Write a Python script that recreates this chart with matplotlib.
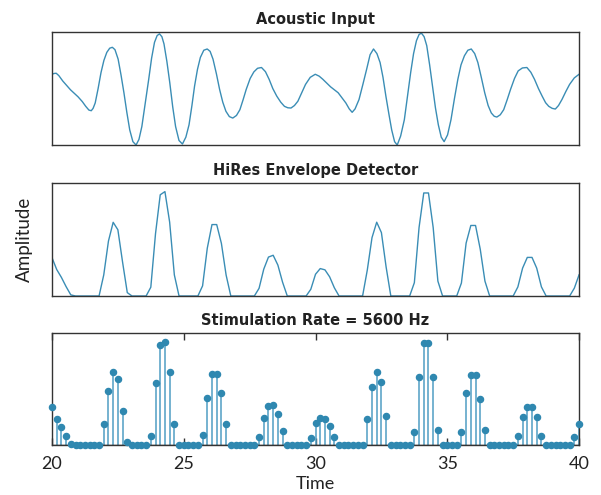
import matplotlib.pyplot as plt
import numpy as np

plt.rcParams['font.family'] = ['Lato', 'DejaVu Sans']

# acoustic input (time in ms, amplitude as fraction of the panel)
input_time = [20.0, 20.08, 20.16, 20.26, 20.41, 20.7, 20.99, 21.15, 21.28, 21.4,
              21.49, 21.56, 21.64, 21.75, 21.86, 21.97, 22.08, 22.19, 22.29, 22.39,
              22.51, 22.62, 22.73, 22.84, 22.95, 23.07, 23.19, 23.3, 23.41, 23.54,
              23.67, 23.78, 23.89, 23.99, 24.08, 24.17, 24.25, 24.36, 24.47, 24.58,
              24.69, 24.82, 24.95, 25.08, 25.2, 25.31, 25.41, 25.52, 25.63, 25.76,
              25.89, 26.0, 26.11, 26.24, 26.36, 26.48, 26.6, 26.73, 26.86, 27.0,
              27.13, 27.25, 27.37, 27.52, 27.66, 27.8, 27.95, 28.1, 28.24, 28.38,
              28.53, 28.68, 28.82, 28.95, 29.07, 29.2, 29.33, 29.48, 29.62, 29.8,
              29.99, 30.14, 30.28, 30.57, 30.86, 31.0, 31.15, 31.28, 31.39, 31.5,
              31.65, 31.8, 31.94, 32.07, 32.2, 32.33, 32.45, 32.56, 32.67, 32.78,
              32.89, 33.0, 33.1, 33.23, 33.37, 33.49, 33.61, 33.72, 33.83, 33.93,
              34.02, 34.12, 34.22, 34.33, 34.44, 34.55, 34.66, 34.77, 34.88, 35.01,
              35.14, 35.27, 35.4, 35.52, 35.65, 35.78, 35.91, 36.04, 36.16, 36.29,
              36.42, 36.55, 36.67, 36.78, 36.88, 37.01, 37.14, 37.27, 37.4, 37.55,
              37.69, 37.85, 38.02, 38.17, 38.31, 38.46, 38.6, 38.73, 38.85, 38.98,
              39.1, 39.22, 39.35, 39.5, 39.64, 39.82, 40.0]
input_amp = [0.627, 0.634, 0.636, 0.615, 0.567, 0.49, 0.427, 0.385, 0.343, 0.31,
             0.304, 0.325, 0.373, 0.5, 0.642, 0.75, 0.821, 0.858, 0.866, 0.845,
             0.761, 0.62, 0.463, 0.29, 0.134, 0.03, 0.0, 0.05, 0.164, 0.37,
             0.582, 0.77, 0.91, 0.97, 0.985, 0.96, 0.896, 0.74, 0.552, 0.34,
             0.164, 0.04, 0.009, 0.07, 0.179, 0.35, 0.522, 0.67, 0.776, 0.84,
             0.851, 0.83, 0.761, 0.63, 0.493, 0.38, 0.299, 0.252, 0.239, 0.262,
             0.313, 0.4, 0.493, 0.59, 0.648, 0.68, 0.687, 0.65, 0.582, 0.5,
             0.433, 0.38, 0.343, 0.33, 0.328, 0.35, 0.388, 0.465, 0.537, 0.6,
             0.627, 0.61, 0.582, 0.516, 0.463, 0.42, 0.373, 0.32, 0.29, 0.32,
             0.403, 0.54, 0.672, 0.8, 0.851, 0.81, 0.731, 0.6, 0.433, 0.28,
             0.134, 0.03, 0.0, 0.08, 0.224, 0.43, 0.642, 0.81, 0.925, 0.98,
             0.991, 0.96, 0.881, 0.71, 0.522, 0.33, 0.179, 0.07, 0.03, 0.09,
             0.224, 0.41, 0.582, 0.71, 0.791, 0.84, 0.851, 0.81, 0.731, 0.6,
             0.463, 0.35, 0.284, 0.255, 0.248, 0.268, 0.313, 0.4, 0.493, 0.59,
             0.657, 0.683, 0.687, 0.645, 0.582, 0.5, 0.433, 0.375, 0.343, 0.325,
             0.319, 0.35, 0.403, 0.475, 0.537, 0.595, 0.627]

# envelope samples at the stimulation rate (one value per pulse, 20 to 40 ms)
stim_rate = 5.6  # pulses per ms
stim_amp = [0.34, 0.235, 0.165, 0.083, 0.01, 0, 0, 0, 0, 0, 0,
            0.187, 0.487, 0.653, 0.587, 0.30, 0.03, 0, 0, 0, 0,
            0.078, 0.553, 0.897, 0.925, 0.655, 0.187, 0, 0, 0, 0, 0,
            0.09, 0.424, 0.633, 0.633, 0.466, 0.186, 0, 0, 0, 0, 0, 0,
            0.068, 0.238, 0.345, 0.361, 0.274, 0.122, 0, 0, 0, 0, 0,
            0.06, 0.193, 0.243, 0.232, 0.17, 0.073, 0, 0, 0, 0, 0, 0,
            0.23, 0.517, 0.654, 0.562, 0.257, 0, 0, 0, 0, 0,
            0.118, 0.607, 0.913, 0.913, 0.607, 0.132, 0, 0, 0, 0,
            0.115, 0.469, 0.625, 0.625, 0.415, 0.132, 0, 0, 0, 0, 0, 0,
            0.081, 0.247, 0.342, 0.342, 0.247, 0.081, 0, 0, 0, 0, 0, 0,
            0.07, 0.188]
stim_time = 20 + np.arange(len(stim_amp)) / stim_rate

titles = ['Acoustic Input', 'HiRes Envelope Detector', 'Stimulation Rate = 5600 Hz']
xticks = [20, 25, 30, 35, 40]

col = '#3a8db5'
spine_col = '#333333'

fig = plt.figure(figsize=(6.01, 4.95), dpi=100)
ax1 = fig.add_axes([0.0865, 0.707, 0.877, 0.228])
ax2 = fig.add_axes([0.0865, 0.402, 0.877, 0.228])
ax3 = fig.add_axes([0.0865, 0.101, 0.877, 0.226])

ax1.plot(input_time, input_amp, color=col, lw=1.0)
ax2.plot(stim_time, stim_amp, color=col, lw=1.0)

markerline, stemlines, baseline = ax3.stem(stim_time, stim_amp, basefmt='k-')
markerline.set_color('#2f88b0')
markerline.set_markersize(4.4)
markerline.set_clip_on(False)
markerline.set_zorder(4)
stemlines.set_color('#4f9ec4')
stemlines.set_linewidth(1.1)
baseline.set_linewidth(1.0)
baseline.set_color('#222222')

for ax, title in zip([ax1, ax2, ax3], titles):
    ax.set_xlim(20, 40)
    ax.set_ylim(0, 1)
    ax.set_title(title, fontsize=10.5, fontweight='bold', color='#222222', pad=6,
                 family=['DejaVu Sans'])
    ax.set_yticks([])
    for s in ax.spines.values():
        s.set_color(spine_col)
        s.set_linewidth(1.0)

ax1.set_xticks([])
ax2.set_xticks([])

ax3.set_xticks(xticks)
ax3.tick_params(axis='x', direction='in', top=True, length=5, width=1.0,
                labelsize=13, colors=spine_col, labelcolor='#222222', pad=8)
ax3.set_xlabel('Time', fontsize=13, color='#222222', labelpad=3)

ax2.set_ylabel('Amplitude', fontsize=13.5, color='#222222', labelpad=14)

fig.savefig('out.png', dpi=100)
